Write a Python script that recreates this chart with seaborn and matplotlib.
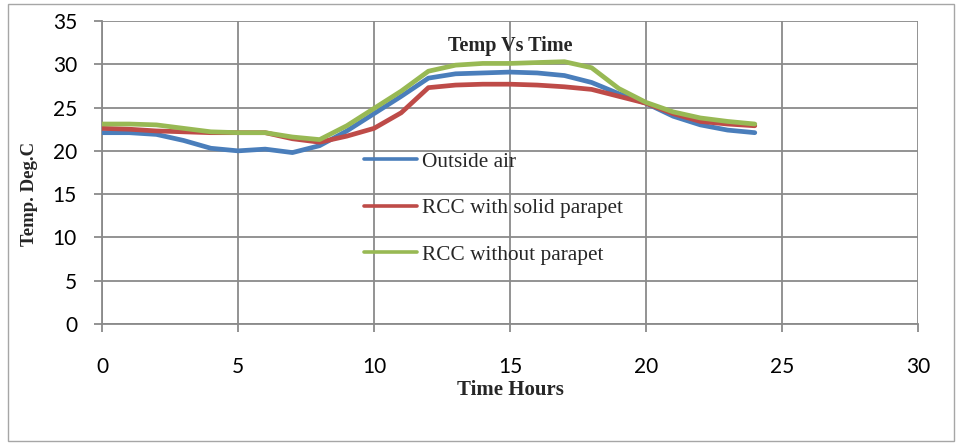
import numpy as np
import pandas as pd
import matplotlib
matplotlib.use("Agg")
import matplotlib.pyplot as plt
import seaborn as sns
from matplotlib.patches import Rectangle

hours = list(range(25))
outside_air = [22.1, 22.1, 21.9, 21.2, 20.3, 20.0, 20.2, 19.8, 20.6, 22.3, 24.3, 26.3, 28.4,
               28.9, 29.0, 29.1, 29.0, 28.7, 27.9, 26.6, 25.5, 24.0, 23.0, 22.4, 22.1]
rcc_solid = [22.6, 22.5, 22.3, 22.2, 22.1, 22.1, 22.1, 21.4, 21.0, 21.7, 22.6, 24.4, 27.3,
             27.6, 27.7, 27.7, 27.6, 27.4, 27.1, 26.3, 25.5, 24.3, 23.4, 23.1, 22.9]
rcc_without = [23.1, 23.1, 23.0, 22.6, 22.2, 22.1, 22.1, 21.6, 21.3, 22.9, 24.9, 26.9, 29.2,
               29.9, 30.1, 30.1, 30.2, 30.3, 29.6, 27.2, 25.6, 24.5, 23.8, 23.4, 23.1]
series_names = ["Outside air", "RCC with solid parapet", "RCC without parapet"]
colors = ["#4A7EBB", "#BE4B48", "#98B954"]
x_ticks = [0, 5, 10, 15, 20, 25, 30]
y_ticks = [0, 5, 10, 15, 20, 25, 30, 35]

df = pd.DataFrame({
    "Hour": hours * 3,
    "Temp": outside_air + rcc_solid + rcc_without,
    "Series": [series_names[0]] * 25 + [series_names[1]] * 25 + [series_names[2]] * 25,
})

sns.set_theme(style="white")
plt.rcParams["font.family"] = ["Lato", "DejaVu Sans"]

fig = plt.figure(figsize=(9.56, 4.44), dpi=100)
ax = fig.add_axes([102 / 956, 1 - 324 / 444, (918 - 102) / 956, (324 - 21) / 444])

grid_c = "#8a8a8a"
sns.lineplot(data=df, x="Hour", y="Temp", hue="Series", palette=colors,
             hue_order=series_names, linewidth=3.4, ax=ax, legend=True,
             solid_joinstyle="round", solid_capstyle="round", zorder=3)

ax.set_xlim(0, 30)
ax.set_ylim(0, 35)
ax.set_xticks(x_ticks)
ax.set_yticks(y_ticks)
ax.grid(True, color=grid_c, linewidth=1.3)
ax.set_axisbelow(True)
for s in ["top", "right"]:
    ax.spines[s].set_visible(False)
for s in ["left", "bottom"]:
    ax.spines[s].set_color(grid_c)
    ax.spines[s].set_linewidth(1.3)
ax.tick_params(axis="both", direction="out", length=6, width=1.3, color=grid_c,
               labelsize=15, labelcolor="black", left=True, bottom=True)
ax.tick_params(axis="y", pad=12)
ax.tick_params(axis="x", pad=18)
ax.set_xlabel("")
ax.set_ylabel("")

serif = ["Liberation Serif", "DejaVu Serif"]
fig.text(510 / 956, 1 - 46 / 444, "Temp Vs Time", family=serif, fontweight="bold",
         fontsize=14.5, ha="center", va="center")
fig.text(510 / 956, 1 - 390 / 444, "Time Hours", family=serif, fontweight="bold",
         fontsize=15, ha="center", va="center")
fig.text(29 / 956, 1 - 194 / 444, "Temp. Deg.C", family=serif, fontweight="bold",
         fontsize=13.5, ha="center", va="center", rotation=90)

leg = ax.legend(loc="upper left", bbox_to_anchor=((364 - 102) / 816, (324 - 152) / 303),
                frameon=False, handlelength=2.5, handletextpad=0.25, labelspacing=1.25,
                prop={"family": serif, "size": 15.3}, borderaxespad=0, borderpad=0)
for line in leg.get_lines():
    line.set_linewidth(2.6)

fig.patches.append(Rectangle((8 / 956, 3 / 444), 946 / 956, 437 / 444, transform=fig.transFigure,
                             fill=False, edgecolor="#a6a6a6", linewidth=1.0))

fig.savefig("out.png", dpi=100)
